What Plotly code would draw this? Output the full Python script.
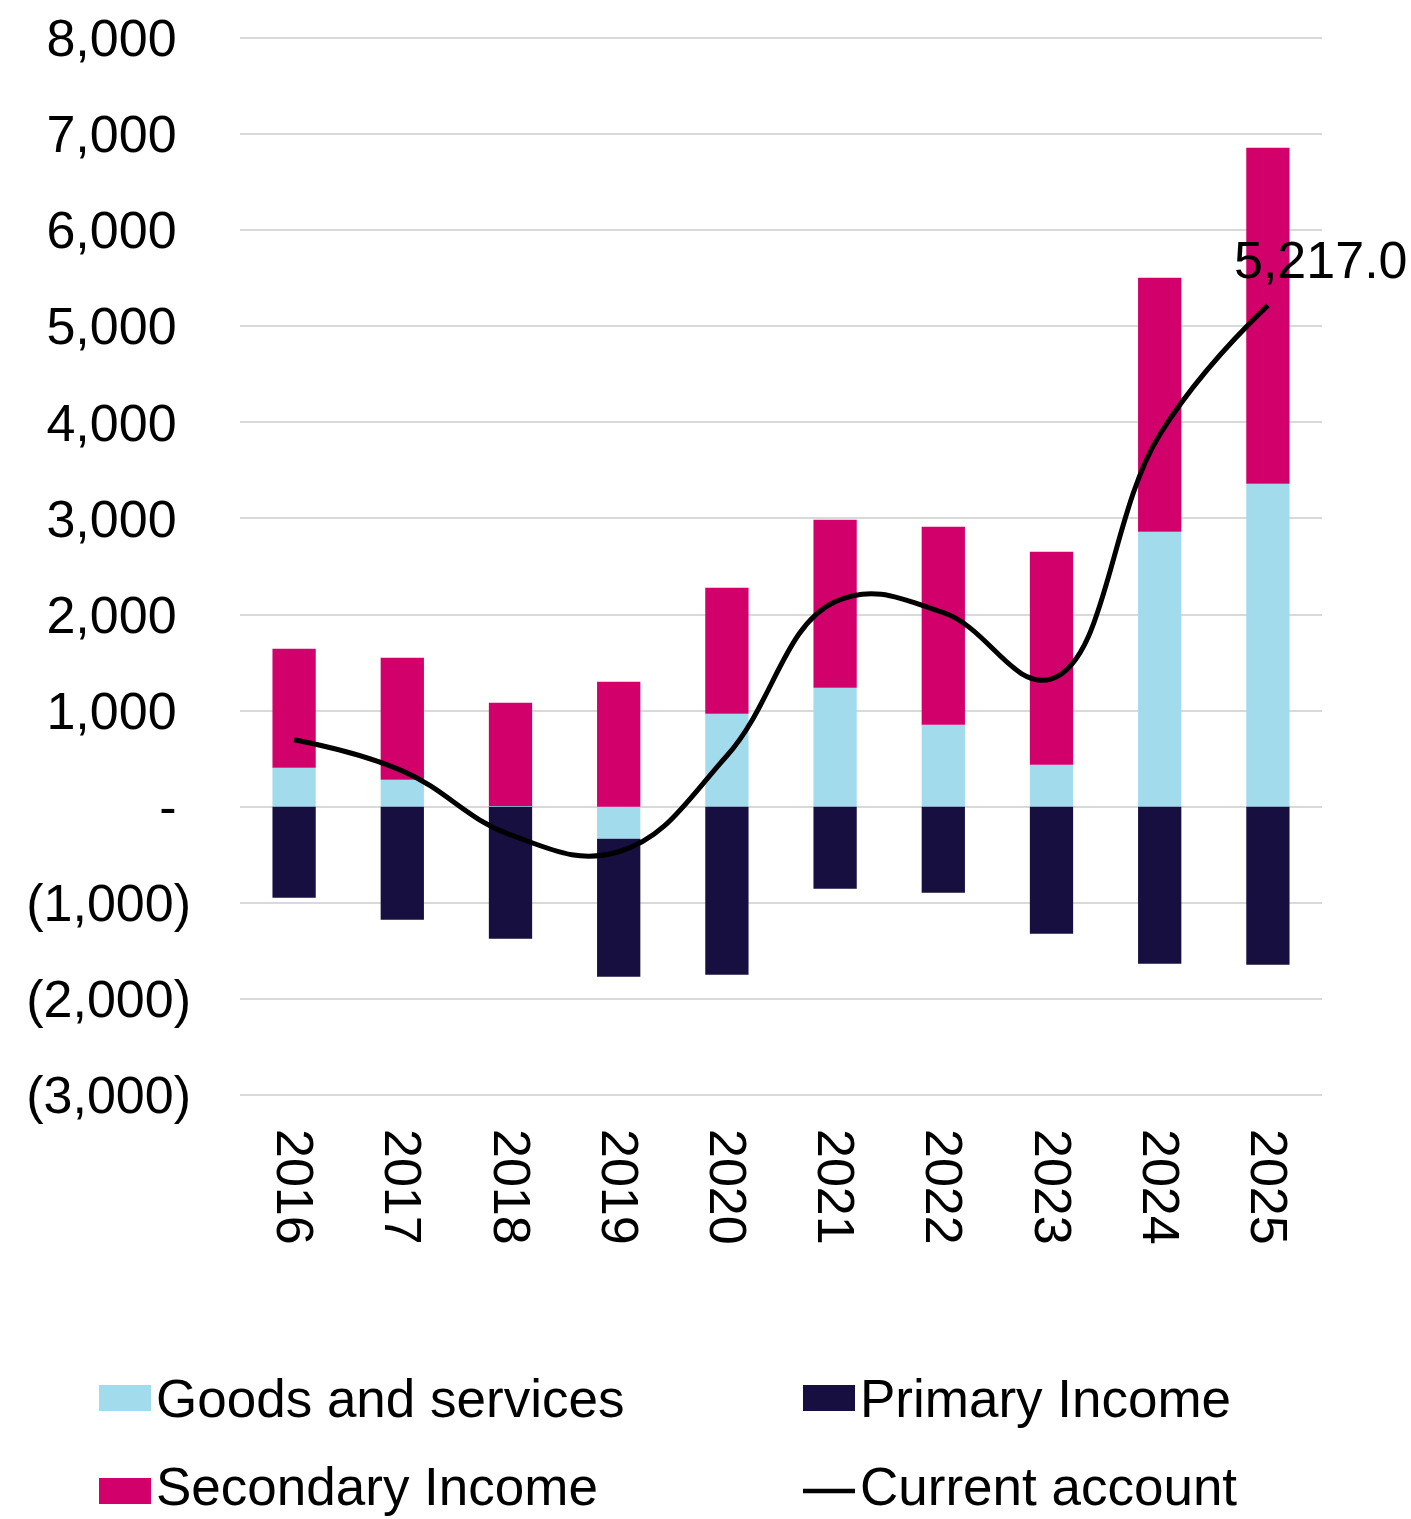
import plotly.graph_objects as go

# Current account components by year
years = ["2016", "2017", "2018", "2019", "2020", "2021", "2022", "2023", "2024", "2025"]
goods_services = [406, 281, 8, -333, 968, 1238, 853, 437, 2862, 3361]
primary_income = [-947, -1176, -1374, -1436, -1748, -853, -895, -1322, -1634, -1644]
secondary_income = [1238, 1269, 1074, 1301, 1311, 1748, 2061, 2216, 2643, 3496]
current_account = [697, 374, -292, -468, 531, 2133, 2019, 1331, 3871, 5217.0]

y_tickvals = [8000, 7000, 6000, 5000, 4000, 3000, 2000, 1000, 0, -1000, -2000, -3000]
y_ticktext = ["8,000\u00a0", "7,000\u00a0", "6,000\u00a0", "5,000\u00a0", "4,000\u00a0",
              "3,000\u00a0", "2,000\u00a0", "1,000\u00a0", "-\u00a0",
              "(1,000)", "(2,000)", "(3,000)"]

C_GOODS = "#a2dbec"
C_PRIMARY = "#180f41"
C_SECONDARY = "#d2006b"
C_LINE = "#000000"
FONT = "Liberation Sans, Arial, sans-serif"

# y range padded a little so the outer gridlines stay visible
Y_MIN, Y_MAX = -3030, 8030
W, H = 1411, 1519
L, R, T, B = 240, 89, 35, 421
PW, PH = W - L - R, H - T - B


def paper(px, py):
    return (px - L) / PW, (H - B - py) / PH


fig = go.Figure()
fig.add_trace(go.Bar(x=years, y=goods_services, name="Goods and services",
                     marker=dict(color=C_GOODS, line=dict(width=0))))
fig.add_trace(go.Bar(x=years, y=primary_income, name="Primary Income",
                     marker=dict(color=C_PRIMARY, line=dict(width=0))))
fig.add_trace(go.Bar(x=years, y=secondary_income, name="Secondary Income",
                     marker=dict(color=C_SECONDARY, line=dict(width=0))))
fig.add_trace(go.Scatter(x=years, y=current_account, name="Current account",
                         mode="lines", line=dict(color=C_LINE, width=5,
                                                 shape="spline", smoothing=1.2)))

# value label on the last point of the current account line
fig.add_annotation(x=len(years) - 1, y=current_account[-1], text=f"{current_account[-1]:,.1f}",
                   showarrow=False, xanchor="left", yanchor="bottom",
                   xshift=-36, yshift=14, font=dict(family=FONT, size=52, color="black"))

# legend: swatches and labels below the chart (swatch y, label y)
legend_items = [
    ("Goods and services", C_GOODS, "box", 99, 1398, 1398),
    ("Primary Income", C_PRIMARY, "box", 803, 1398, 1398),
    ("Secondary Income", C_SECONDARY, "box", 99, 1491, 1486),
    ("Current account", C_LINE, "line", 803, 1491, 1486),
]
for label, color, kind, sx, sy, ly in legend_items:
    if kind == "box":
        x0, y0 = paper(sx, sy - 13)
        x1, y1 = paper(sx + 52, sy + 13)
        fig.add_shape(type="rect", xref="paper", yref="paper", x0=x0, x1=x1, y0=y0, y1=y1,
                      fillcolor=color, line=dict(width=0))
    else:
        x0, y0 = paper(sx, sy)
        x1, _ = paper(sx + 52, sy)
        fig.add_shape(type="line", xref="paper", yref="paper", x0=x0, x1=x1, y0=y0, y1=y0,
                      line=dict(color=color, width=4.5))
    tx, ty = paper(sx + 55, ly)
    fig.add_annotation(xref="paper", yref="paper", x=tx, y=ty, text=label, showarrow=False,
                       xanchor="left", yanchor="middle",
                       font=dict(family=FONT, size=53, color="black"))

fig.update_layout(
    width=W, height=H,
    margin=dict(l=L, r=R, t=T, b=B, autoexpand=False),
    barmode="relative", bargap=0.6,
    showlegend=False,
    plot_bgcolor="white", paper_bgcolor="white",
    font=dict(family=FONT, size=52, color="black"),
)
fig.update_xaxes(type="category", range=[-0.5, len(years) - 0.5], tickangle=90,
                 showgrid=False, showline=False, ticks="", ticklabelstandoff=30,
                 tickfont=dict(family=FONT, size=52, color="black"))
fig.update_yaxes(range=[Y_MIN, Y_MAX], tickvals=y_tickvals, ticktext=y_ticktext,
                 showgrid=True, gridcolor="#d9d9d9", gridwidth=2,
                 zeroline=True, zerolinecolor="#d9d9d9", zerolinewidth=2,
                 showline=False, ticks="", ticklabelstandoff=48,
                 tickfont=dict(family=FONT, size=52, color="black"))

fig.write_html("out.html")
